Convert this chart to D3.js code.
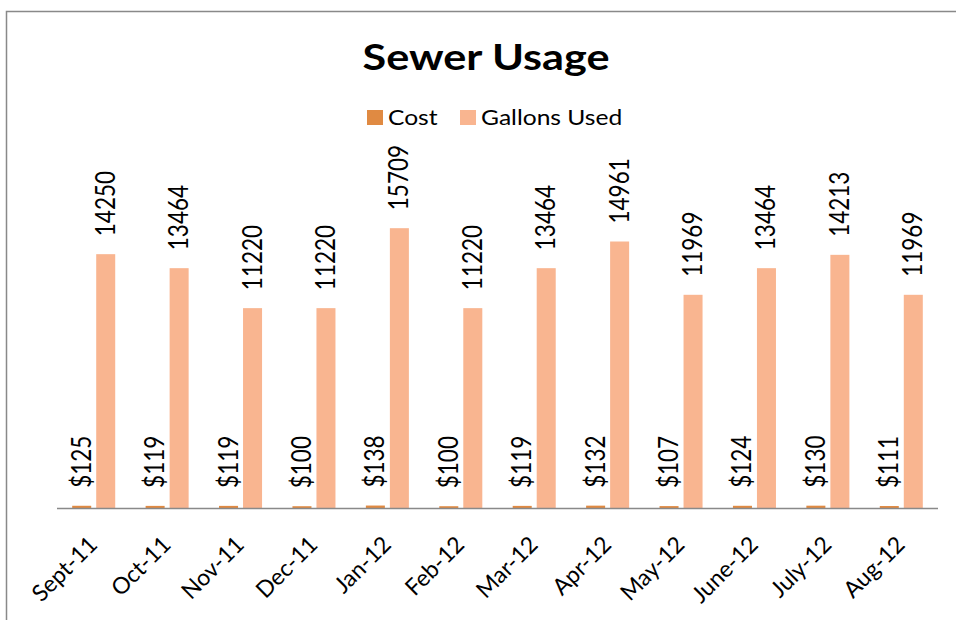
<!DOCTYPE html>
<html lang="en">
  <head>
    <title>Sewer Usage</title>
    <style>
      html,
      body {
        margin: 0;
        background: #fff;
      }

      svg {
        display: block;
      }
    </style>
    <script src="https://d3js.org/d3.v7.min.js"></script>
  </head>
  <body>
    <svg width="956" height="620"></svg>

    <script>
      var months = ['Sept-11', 'Oct-11', 'Nov-11', 'Dec-11', 'Jan-12', 'Feb-12',
        'Mar-12', 'Apr-12', 'May-12', 'June-12', 'July-12', 'Aug-12'];
      var cost = [125, 119, 119, 100, 138, 100, 119, 132, 107, 124, 130, 111];
      var gallons = [14250, 13464, 11220, 11220, 15709, 11220, 13464, 14961, 11969, 13464, 14213, 11969];
      var seriesNames = ['Cost', 'Gallons Used'];
      var colors = ['#e08a42', '#f9b590'];

      // text in the picture is a bit wider than tall
      var sx = 1.2,
        font = 'Lato, "Open Sans", sans-serif';

      var svg = d3.select('svg');

      // chart frame (right and bottom edge run off the picture)
      svg.append('rect')
        .attr('x', 6.5).attr('y', 11.5)
        .attr('width', 1000).attr('height', 700)
        .attr('fill', 'none')
        .attr('stroke', '#898989')
        .attr('stroke-width', 1.5);

      var rows = months.map(function(m, i) {
        return { month: m, values: [cost[i], gallons[i]] };
      });

      var x0 = d3.scaleBand().domain(months).range([57, 938]);
      var x1 = d3.scaleBand().domain([0, 1])
        .range([0, x0.bandwidth()])
        .paddingInner(0.208)
        .paddingOuter(0.633);
      var y = d3.scaleLinear().domain([0, 16000]).range([508, 223]);

      var groups = svg.append('g').selectAll('g')
        .data(rows)
        .enter().append('g')
        .attr('transform', function(d) { return 'translate(' + x0(d.month) + ',0)'; });

      groups.selectAll('rect')
        .data(function(d) { return d.values; })
        .enter().append('rect')
        .attr('x', function(v, i) { return x1(i); })
        .attr('y', function(v) { return y(v); })
        .attr('width', x1.bandwidth())
        .attr('height', function(v) { return y(0) - y(v); })
        .attr('fill', function(v, i) { return colors[i]; });

      // value labels, rotated, above each bar
      groups.selectAll('text')
        .data(function(d) { return d.values; })
        .enter().append('text')
        .attr('transform', function(v, i) {
          return 'translate(' + (x1(i) + x1.bandwidth() / 2 + 9) + ',' + (y(v) - 18) + ') scale(' + sx + ',1) rotate(-90)';
        })
        .attr('font-family', font)
        .attr('font-size', 22.5)
        .attr('fill', '#000')
        .text(function(v, i) { return i === 0 ? '$' + v : v; });

      // baseline
      svg.append('line')
        .attr('x1', 57).attr('x2', 938)
        .attr('y1', y(0) + 0.5).attr('y2', y(0) + 0.5)
        .attr('stroke', '#898989')
        .attr('stroke-width', 1.5);

      // category labels
      svg.append('g').selectAll('text')
        .data(months)
        .enter().append('text')
        .attr('transform', function(d) {
          return 'translate(' + (x0(d) + x0.bandwidth() / 2 + 5) + ',546) rotate(-45)';
        })
        .attr('text-anchor', 'end')
        .attr('font-family', font)
        .attr('font-size', 23)
        .attr('fill', '#000')
        .text(function(d) { return d; });

      // title
      svg.append('text')
        .attr('transform', 'translate(486,70) scale(' + sx + ',1)')
        .attr('text-anchor', 'middle')
        .attr('font-family', font)
        .attr('font-weight', 'bold')
        .attr('font-size', 36)
        .text('Sewer Usage');

      // legend
      var legend = svg.append('g');
      var legendX = [367, 460];
      seriesNames.forEach(function(name, i) {
        legend.append('rect')
          .attr('x', legendX[i]).attr('y', 110)
          .attr('width', 16).attr('height', 15)
          .attr('fill', colors[i]);
        legend.append('text')
          .attr('transform', 'translate(' + (legendX[i] + 21) + ',125) scale(' + sx + ',1)')
          .attr('font-family', font)
          .attr('font-size', 20.5)
          .text(name);
      });
    </script>
  </body>
</html>
